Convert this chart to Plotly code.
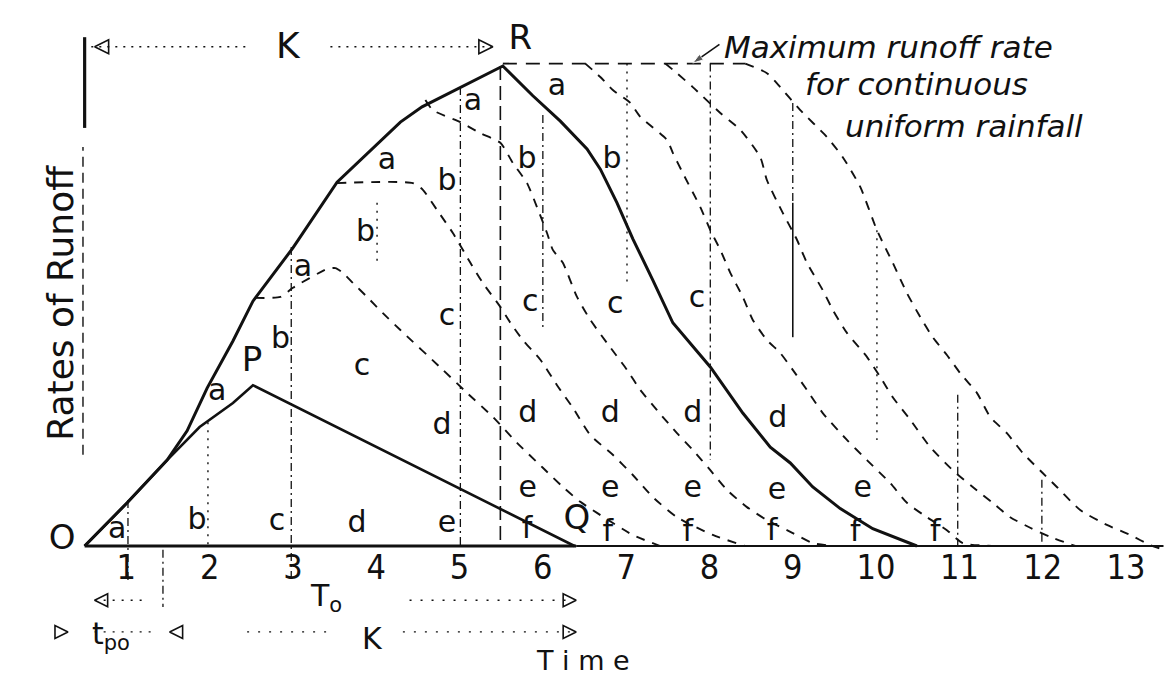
import plotly.graph_objects as go

# time axis is in unit periods, rates are scaled so that the maximum rate R = 10

# envelope hydrograph O ... R ... (solid)
env_t = [0.50, 1.01, 1.49, 1.73, 1.97, 2.28, 2.52, 3.00, 3.53, 4.29, 4.55, 5.01, 5.52,
         5.88, 6.21, 6.53, 6.69, 6.89, 7.08, 7.32, 7.56, 8.01, 8.40, 8.73, 8.97, 9.24,
         9.57, 9.96, 10.49]
env_y = [0, 0.90, 1.79, 2.40, 3.29, 4.27, 5.10, 6.21, 7.58, 8.83, 9.15, 9.56, 10.0,
         9.38, 8.85, 8.27, 7.85, 7.15, 6.40, 5.54, 4.65, 3.73, 2.77, 2.06, 1.73, 1.23,
         0.78, 0.36, 0]

# unit graph O - P - Q (solid)
unit_t = [0.50, 1.01, 1.49, 1.88, 2.28, 2.52, 6.38]
unit_y = [0, 0.90, 1.79, 2.48, 2.98, 3.35, 0]

# dashed hydrographs for 2, 3, 4 periods (peel off the rising limb)
c2_t = [2.55, 2.85, 3.00, 3.41, 3.51, 3.60, 3.72, 3.89, 4.08, 4.29, 4.80, 5.09, 5.40,
        5.69, 6.00, 6.24, 6.45, 6.65, 7.08, 7.41]
c2_y = [5.17, 5.19, 5.38, 5.77, 5.79, 5.69, 5.48, 5.19, 4.85, 4.50, 3.67, 3.19, 2.69,
        2.15, 1.63, 1.23, 0.92, 0.69, 0.23, 0]
c3_t = [3.53, 4.44, 4.56, 4.73, 4.92, 5.13, 5.28, 5.49, 5.61, 5.76, 5.97, 6.17, 6.36,
        6.57, 6.84, 7.08, 7.32, 7.61, 8.04, 8.43]
c3_y = [7.56, 7.56, 7.42, 7.00, 6.52, 5.90, 5.48, 4.98, 4.65, 4.29, 3.88, 3.35, 2.88,
        2.31, 1.90, 1.48, 1.02, 0.60, 0.23, 0]
c4_t = [4.59, 4.68, 5.01, 5.25, 5.49, 5.64, 5.81, 5.93, 6.05, 6.12, 6.24, 6.41, 6.57,
        6.77, 7.01, 7.17, 7.37, 7.61, 7.80, 8.01, 8.21, 8.45, 8.69, 9.00, 9.24, 9.48]
c4_y = [9.29, 9.08, 8.83, 8.60, 8.40, 7.98, 7.56, 7.06, 6.52, 6.17, 5.90, 5.19, 4.71,
        4.23, 3.67, 3.25, 2.83, 2.35, 2.00, 1.58, 1.17, 0.81, 0.54, 0.27, 0.06, 0]

# dashed hydrographs leaving the maximum rate line
c6_t = [6.51, 6.69, 6.84, 7.05, 7.17, 7.49, 7.56, 7.68, 7.89, 8.01, 8.13, 8.25, 8.40,
        8.52, 8.69, 8.85, 9.00, 9.17, 9.36, 9.65, 9.89, 10.17, 10.37, 10.61, 10.85,
        11.04, 11.45]
c6_y = [10.05, 9.77, 9.50, 9.23, 8.94, 8.46, 8.19, 7.77, 7.06, 6.58, 6.17, 5.69, 5.19,
        4.71, 4.29, 4.02, 3.67, 3.25, 2.77, 2.21, 1.79, 1.31, 0.90, 0.60, 0.33, 0.06, 0]
c7_t = [7.47, 7.61, 7.80, 8.13, 8.37, 8.61, 8.69, 8.88, 9.05, 9.17, 9.36, 9.48, 9.65,
        9.89, 10.05, 10.20, 10.41, 10.65, 10.92, 11.16, 11.40, 11.61, 11.85, 12.09, 12.39]
c7_y = [10.05, 9.85, 9.56, 9.02, 8.67, 8.10, 7.62, 6.94, 6.38, 5.90, 5.33, 4.92, 4.44,
        3.94, 3.52, 3.10, 2.63, 2.06, 1.58, 1.23, 0.90, 0.60, 0.38, 0.19, 0]
c8_t = [8.43, 8.69, 8.85, 9.09, 9.41, 9.60, 9.81, 10.01, 10.20, 10.37, 10.53, 10.68,
        10.85, 11.01, 11.21, 11.37, 11.57, 11.76, 12.00, 12.17, 12.45, 12.77, 13.05,
        13.29, 13.46]
c8_y = [10.05, 9.85, 9.56, 9.08, 8.52, 8.10, 7.48, 6.58, 5.90, 5.27, 4.77, 4.35, 3.98,
        3.60, 3.19, 2.69, 2.35, 1.94, 1.52, 1.23, 0.75, 0.44, 0.23, 0.02, -0.08]

max_t = [5.52, 8.43]
max_y = [10.05, 10.05]

# ordinates
dd_t = [1.02, 1.44, 2.98, 5.01, 6.00, 8.01, 9.00, 10.98, 11.99]
dd_top = [0.96, -0.08, 6.23, 9.56, 8.98, 10.05, 9.23, 3.15, 1.38]
dd_bot = [-0.71, -1.27, -0.77, 0, 4.50, 1.79, 7.15, -0.08, 0]
dot_t = [1.98, 4.01, 7.01, 10.01]
dot_top = [2.58, 7.15, 10.05, 6.58]
dot_bot = [0, 5.90, 5.44, 2.21]
solid_t = [9.00]
solid_top = [7.15]
solid_bot = [4.35]
r_t = [5.49, 5.49]
r_y = [10.0, 0]

# axes
axis_t = [0.50, 6.40, 13.45]
axis_y = [0, 0, 0]
yax_t = [0.50, 0.50]
yax_y = [8.71, 10.60]
under_t = [0.48, 0.48]
under_y = [1.90, 8.31]

tick_vals = [1, 2, 3, 4, 5, 6, 7, 8, 9, 10, 11, 12, 13]
tick_text = ['1', '2', '3', '4', '5', '6', '7', '8', '9', '10', '11', '12', '13']

# a..f increments
lab_text = ['a', 'b', 'c', 'd', 'e', 'f',
            'a', 'b', 'c', 'd', 'e', 'f',
            'a', 'b', 'c', 'd', 'e', 'f',
            'a', 'b', 'c', 'd', 'e', 'f',
            'a', 'b', 'c', 'd', 'e', 'f',
            'a', 'b', 'c', 'd', 'e', 'f']
lab_t = [0.89, 1.85, 2.81, 3.77, 4.85, 5.81,
         2.09, 2.85, 3.83, 4.79, 5.82, 6.78,
         3.12, 3.87, 4.85, 5.82, 6.81, 7.74,
         4.13, 4.85, 5.85, 6.81, 7.80, 8.75,
         5.16, 5.81, 6.87, 7.80, 8.81, 9.75,
         6.17, 6.83, 7.85, 8.82, 9.84, 10.71]
lab_y = [0.33, 0.52, 0.48, 0.44, 0.44, 0.33,
         3.19, 4.29, 3.71, 2.48, 1.17, 0.27,
         5.79, 6.52, 4.77, 2.73, 1.17, 0.27,
         8.00, 7.58, 5.06, 2.73, 1.17, 0.29,
         9.23, 8.04, 5.02, 2.73, 1.13, 0.27,
         9.56, 8.04, 5.13, 2.63, 1.17, 0.27]

pt_text = ['O', 'P', 'Q', 'R']
pt_t = [0.23, 2.51, 6.41, 5.73]
pt_y = [0.12, 3.83, 0.54, 10.54]

# leader from the note to the maximum rate line
lead_t = [8.12, 7.80]
lead_y = [10.45, 10.06]

BLACK = '#111111'
LAB_FONT = 'DejaVu Sans, sans-serif'
NUM_FONT = 'Liberation Sans Narrow, DejaVu Sans Condensed, Roboto, sans-serif'

fig = go.Figure()


def add_line(t, y, width, dash='solid', shape='linear'):
    fig.add_trace(go.Scatter(x=t, y=y, mode='lines', hoverinfo='skip',
                             line=dict(color=BLACK, width=width, dash=dash, shape=shape,
                                       smoothing=0.6)))


# dashed hydrographs
for ct, cy in [(c2_t, c2_y), (c3_t, c3_y), (c4_t, c4_y),
               (c6_t, c6_y), (c7_t, c7_y), (c8_t, c8_y)]:
    add_line(ct, cy, 1.9, dash='9px,8px', shape='spline')
add_line(max_t, max_y, 1.9, dash='14px,9px')

# ordinates
for t, a, b in zip(dd_t, dd_top, dd_bot):
    add_line([t, t], [a, b], 1.3, dash='8px,4px,2px,4px')
for t, a, b in zip(dot_t, dot_top, dot_bot):
    add_line([t, t], [a, b], 1.4, dash='2px,6px')
for t, a, b in zip(solid_t, solid_top, solid_bot):
    add_line([t, t], [a, b], 1.6)
add_line(r_t, r_y, 1.6, dash='14px,6px')

# axes
add_line(axis_t[:2], axis_y[:2], 2.8)
add_line(axis_t[1:], axis_y[1:], 2.0)
add_line(yax_t, yax_y, 3.2)
add_line(under_t, under_y, 1.4, dash='10px,6px')

# main curves
add_line(unit_t, unit_y, 2.6)
add_line(env_t, env_y, 3.0)

# tick labels
fig.add_trace(go.Scatter(x=tick_vals, y=[-0.52] * len(tick_vals), mode='text',
                         text=tick_text, hoverinfo='skip',
                         textfont=dict(family=NUM_FONT, size=34, color=BLACK)))

# increment labels
fig.add_trace(go.Scatter(x=lab_t, y=lab_y, mode='text', text=lab_text, hoverinfo='skip',
                         textfont=dict(family=LAB_FONT, size=30, color=BLACK)))

# point labels
fig.add_trace(go.Scatter(x=pt_t, y=pt_y, mode='text', text=pt_text, hoverinfo='skip',
                         textfont=dict(family=LAB_FONT, size=34, color=BLACK)))

# K arrow on top
add_line([0.58, 2.45], [10.40, 10.40], 1.4, dash='2px,6px')
add_line([3.45, 5.38], [10.40, 10.40], 1.4, dash='2px,6px')
fig.add_trace(go.Scatter(x=[0.62, 5.40], y=[10.40, 10.40], mode='markers', hoverinfo='skip',
                         marker=dict(symbol=['arrow-left-open', 'arrow-right-open'],
                                     size=14, color=BLACK, line=dict(width=1.6, color=BLACK))))
fig.add_annotation(x=2.95, y=10.42, text='K', showarrow=False,
                   font=dict(family=LAB_FONT, size=36, color=BLACK))

# To and K arrows below the axis
add_line([0.62, 1.20], [-1.13, -1.13], 1.3, dash='2px,7px')
add_line([4.40, 6.35], [-1.13, -1.13], 1.3, dash='2px,9px')
add_line([0.62, 1.30], [-1.79, -1.79], 1.3, dash='2px,7px')
add_line([2.45, 3.50], [-1.79, -1.79], 1.3, dash='2px,9px')
add_line([4.32, 6.35], [-1.79, -1.79], 1.3, dash='2px,9px')
fig.add_trace(go.Scatter(x=[0.62, 6.40, 0.30, 1.52, 6.40], y=[-1.13, -1.13, -1.79, -1.79, -1.79],
                         mode='markers', hoverinfo='skip',
                         marker=dict(symbol=['arrow-left-open', 'arrow-right-open',
                                             'arrow-right-open', 'arrow-left-open',
                                             'arrow-right-open'],
                                     size=13, color=BLACK, line=dict(width=1.6, color=BLACK))))
fig.add_annotation(x=3.40, y=-1.08, text='T<sub>o</sub>', showarrow=False,
                   font=dict(family=LAB_FONT, size=30, color=BLACK))
fig.add_annotation(x=3.96, y=-1.92, text='K', showarrow=False,
                   font=dict(family=LAB_FONT, size=30, color=BLACK))
fig.add_annotation(x=0.82, y=-1.86, text='t<sub>po</sub>', showarrow=False,
                   font=dict(family=LAB_FONT, size=30, color=BLACK))
fig.add_annotation(x=6.48, y=-2.38, text='T i m e', showarrow=False,
                   font=dict(family=LAB_FONT, size=27, color=BLACK))

# y label
fig.add_annotation(x=0.20, y=5.06, text='Rates of Runoff', showarrow=False, textangle=-90,
                   font=dict(family=LAB_FONT, size=36, color=BLACK))

# maximum runoff note with its leader
fig.add_trace(go.Scatter(x=lead_t, y=lead_y, mode='lines+markers', hoverinfo='skip',
                         line=dict(color=BLACK, width=1.6),
                         marker=dict(symbol='arrow', angleref='previous', size=[0, 11],
                                     color=BLACK)))
fig.add_annotation(x=8.15, y=10.40, xanchor='left', text='<i>Maximum runoff rate</i>',
                   showarrow=False, font=dict(family=LAB_FONT, size=31, color=BLACK))
fig.add_annotation(x=9.12, y=9.62, xanchor='left', text='<i>for continuous</i>',
                   showarrow=False, font=dict(family=LAB_FONT, size=31, color=BLACK))
fig.add_annotation(x=9.60, y=8.75, xanchor='left', text='<i>uniform rainfall</i>',
                   showarrow=False, font=dict(family=LAB_FONT, size=31, color=BLACK))

# the page body adds an 8px margin, so the figure is 16px smaller than the window
fig.update_layout(width=1160, height=673, margin=dict(l=0, r=0, t=0, b=0),
                  paper_bgcolor='white', plot_bgcolor='white', showlegend=False,
                  xaxis=dict(range=[-0.42, 13.504], visible=False, fixedrange=True),
                  yaxis=dict(range=[-2.812, 11.208], visible=False, fixedrange=True))

fig.write_html("out.html")
